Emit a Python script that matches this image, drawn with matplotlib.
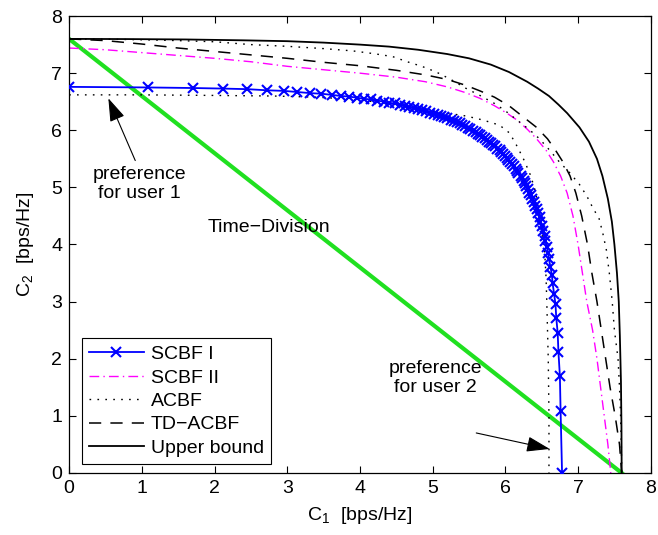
import matplotlib
matplotlib.use("Agg")
import matplotlib.pyplot as plt

plt.rcParams['font.family'] = ['Liberation Sans', 'DejaVu Sans']
plt.rcParams['mathtext.fontset'] = 'custom'
plt.rcParams['mathtext.rm'] = 'Liberation Sans'
plt.rcParams['mathtext.it'] = 'Liberation Sans'

# SCBF I (one marker per power-split step)
scbf1_c1 = [0.00, 1.08, 1.70, 2.12, 2.45, 2.72, 2.95, 3.14, 3.32, 3.47,
            3.61, 3.74, 3.85, 3.96, 4.06, 4.15, 4.24, 4.33, 4.40, 4.48,
            4.55, 4.62, 4.68, 4.74, 4.80, 4.86, 4.91, 4.97, 5.02, 5.07,
            5.11, 5.16, 5.20, 5.25, 5.29, 5.33, 5.37, 5.41, 5.45, 5.48,
            5.52, 5.55, 5.59, 5.62, 5.65, 5.68, 5.72, 5.75, 5.78, 5.80,
            5.83, 5.86, 5.89, 5.92, 5.94, 5.97, 5.99, 6.02, 6.04, 6.07,
            6.09, 6.12, 6.14, 6.16, 6.18, 6.21, 6.23, 6.25, 6.27, 6.29,
            6.31, 6.33, 6.35, 6.37, 6.39, 6.41, 6.43, 6.45, 6.47, 6.48,
            6.50, 6.52, 6.54, 6.55, 6.57, 6.59, 6.60, 6.62, 6.64, 6.65,
            6.67, 6.69, 6.70, 6.72, 6.73, 6.75, 6.76, 6.78]
scbf1_c2 = [6.76, 6.75, 6.74, 6.73, 6.72, 6.70, 6.69, 6.67,
            6.65, 6.64, 6.62, 6.60, 6.59, 6.57, 6.55, 6.54, 6.52, 6.50,
            6.48, 6.47, 6.45, 6.43, 6.41, 6.39, 6.37, 6.35, 6.33, 6.31,
            6.29, 6.27, 6.25, 6.23, 6.21, 6.18, 6.16, 6.14, 6.12, 6.09,
            6.07, 6.04, 6.02, 5.99, 5.97, 5.94, 5.92, 5.89, 5.86, 5.83,
            5.80, 5.78, 5.75, 5.72, 5.68, 5.65, 5.62, 5.59, 5.55, 5.52,
            5.48, 5.45, 5.41, 5.37, 5.33, 5.29, 5.25, 5.20, 5.16, 5.11,
            5.07, 5.02, 4.97, 4.91, 4.86, 4.80, 4.74, 4.68, 4.62, 4.55,
            4.48, 4.40, 4.33, 4.24, 4.15, 4.06, 3.96, 3.85, 3.74, 3.61,
            3.47, 3.32, 3.14, 2.95, 2.72, 2.45, 2.12, 1.70, 1.08, 0.00]

# SCBF II
scbf2_c1 = [0.00, 0.50, 1.00, 1.50, 2.00, 2.50, 3.00, 3.50, 4.00, 4.50, 4.90,
            5.20, 5.45, 5.65, 5.85, 6.02, 6.17, 6.30, 6.43, 6.56, 6.66, 6.76,
            6.85, 6.93, 7.00, 7.06, 7.12, 7.20, 7.26, 7.31, 7.36, 7.41, 7.45]
scbf2_c2 = [7.44, 7.41, 7.36, 7.31, 7.26, 7.20, 7.12, 7.06, 7.00, 6.93, 6.85,
            6.76, 6.66, 6.56, 6.43, 6.30, 6.17, 6.02, 5.85, 5.65, 5.45, 5.20,
            4.90, 4.50, 4.00, 3.50, 3.00, 2.50, 2.00, 1.50, 1.00, 0.50, 0.00]

# ACBF, inner branch
acbf_in_c1 = [0.00, 1.00, 2.00, 2.80, 3.40, 3.80, 4.20, 4.60, 4.96, 5.25, 5.46,
              5.69, 5.92, 6.06, 6.17, 6.26, 6.35, 6.42, 6.47, 6.54, 6.56, 6.57,
              6.59, 6.60, 6.60]
acbf_in_c2 = [6.62, 6.62, 6.61, 6.60, 6.58, 6.55, 6.50, 6.43, 6.34, 6.29, 6.25,
              6.18, 6.09, 5.95, 5.70, 5.47, 5.20, 4.90, 4.47, 3.89, 3.42, 3.00,
              2.00, 1.00, 0.00]

# ACBF, outer branch
acbf_out_c1 = [0.00, 0.50, 1.00, 1.50, 2.00, 2.50, 3.00, 3.50, 3.90, 4.20, 4.45,
               4.65, 4.85, 5.05, 5.25, 5.45, 5.65, 5.85, 6.00, 6.17, 6.34, 6.47,
               6.61, 6.74, 6.89, 7.02, 7.12, 7.20, 7.29, 7.34, 7.39, 7.43, 7.47,
               7.50, 7.55, 7.57, 7.585, 7.595, 7.60]
acbf_out_c2 = [7.60, 7.595, 7.585, 7.57, 7.55, 7.50, 7.47, 7.43, 7.39, 7.34, 7.29,
               7.20, 7.12, 7.02, 6.89, 6.74, 6.61, 6.47, 6.34, 6.17, 6.00, 5.85,
               5.65, 5.45, 5.25, 5.05, 4.85, 4.65, 4.45, 4.20, 3.90, 3.50, 3.00,
               2.50, 2.00, 1.50, 1.00, 0.50, 0.00]

# TD-ACBF
tdacbf_c1 = [0.00, 0.50, 1.00, 1.50, 2.00, 2.50, 3.00, 3.50, 4.00, 4.50, 4.90,
             5.20, 5.45, 5.65, 5.85, 6.05, 6.24, 6.43, 6.58, 6.69, 6.79, 6.89,
             6.97, 7.05, 7.13, 7.19, 7.26, 7.32, 7.38, 7.44, 7.51, 7.57, 7.60]
tdacbf_c2 = [7.60, 7.57, 7.51, 7.44, 7.38, 7.32, 7.26, 7.19, 7.13, 7.05, 6.97,
             6.89, 6.79, 6.69, 6.58, 6.43, 6.24, 6.05, 5.85, 5.65, 5.45, 5.20,
             4.90, 4.50, 4.00, 3.50, 3.00, 2.50, 2.00, 1.50, 1.00, 0.50, 0.00]

# Upper bound
ub_c1 = [0.00, 0.80, 1.60, 2.40, 3.00, 3.50, 4.00, 4.40, 4.80, 5.20, 5.50,
         5.80, 6.05, 6.30, 6.45, 6.60, 6.73, 6.85, 7.02, 7.15, 7.26, 7.335,
         7.41, 7.465, 7.50, 7.535, 7.56, 7.575, 7.59, 7.597, 7.60]
ub_c2 = [7.60, 7.597, 7.59, 7.575, 7.56, 7.535, 7.50, 7.465, 7.41, 7.335, 7.26,
         7.15, 7.02, 6.85, 6.73, 6.60, 6.45, 6.30, 6.05, 5.80, 5.50, 5.20,
         4.80, 4.40, 4.00, 3.50, 3.00, 2.40, 1.60, 0.80, 0.00]

# Time-division line
td_c1 = [0.0, 7.6]
td_c2 = [7.6, 0.0]

fs = 14
fig = plt.figure(figsize=(6.58, 5.35), dpi=100)
ax = fig.add_axes([0.105, 0.116, 0.884, 0.854])

ax.plot(td_c1, td_c2, color='#20e020', lw=3.0, zorder=1)
ax.plot(scbf1_c1, scbf1_c2, 'b-x', lw=1.3, ms=7, mew=1.5, label='SCBF I', zorder=5)
ax.plot(scbf2_c1, scbf2_c2, color='magenta', lw=1.0, ls=(0, (7, 3, 1, 3)), label='SCBF II')
ax.plot(acbf_in_c1, acbf_in_c2, color='k', lw=1.0, ls=(0, (1.2, 4.5)), label='ACBF')
ax.plot(acbf_out_c1, acbf_out_c2, color='k', lw=1.0, ls=(0, (1.2, 4.5)))
ax.plot(tdacbf_c1, tdacbf_c2, color='k', lw=1.1, ls=(0, (8, 6)), label='TD\u2212ACBF')
ax.plot(ub_c1, ub_c2, color='k', lw=1.3, label='Upper bound')

ax.set_xlim(0, 8)
ax.set_ylim(0, 8)
ax.set_xticks(range(9))
ax.set_yticks(range(9))
ax.tick_params(direction='in', top=True, right=True, length=5, width=0.8,
               labelsize=fs, pad=5)
for s in ax.spines.values():
    s.set_linewidth(0.9)

ax.set_xlabel(r'$\mathregular{C_1}$  [bps/Hz]', fontsize=fs, labelpad=6)
ax.set_ylabel(r'$\mathregular{C_2}$  [bps/Hz]', fontsize=fs, labelpad=11)

ax.text(1.9, 4.3, 'Time\u2212Division', fontsize=fs, va='center', ha='left')

arrow = dict(arrowstyle='-|>,head_length=0.9,head_width=0.3', color='k', lw=0.8,
             mutation_scale=16, shrinkA=0, shrinkB=0)
ax.text(0.97, 5.06, 'preference\nfor user 1', fontsize=fs, ha='center', va='center',
        linespacing=1.1)
ax.annotate('', xy=(0.54, 6.56), xytext=(0.91, 5.47), arrowprops=arrow)
ax.text(5.04, 1.66, 'preference\nfor user 2', fontsize=fs, ha='center', va='center',
        linespacing=1.1)
ax.annotate('', xy=(6.61, 0.42), xytext=(5.6, 0.70), arrowprops=arrow)

leg = ax.legend(loc='lower left', bbox_to_anchor=(0.022, 0.019), borderaxespad=0,
                fontsize=fs, handlelength=2.8, handletextpad=0.35, labelspacing=0.3,
                borderpad=0.38, fancybox=False, framealpha=1, edgecolor='k')
leg.get_frame().set_linewidth(0.8)

fig.savefig('out.png', dpi=100)
